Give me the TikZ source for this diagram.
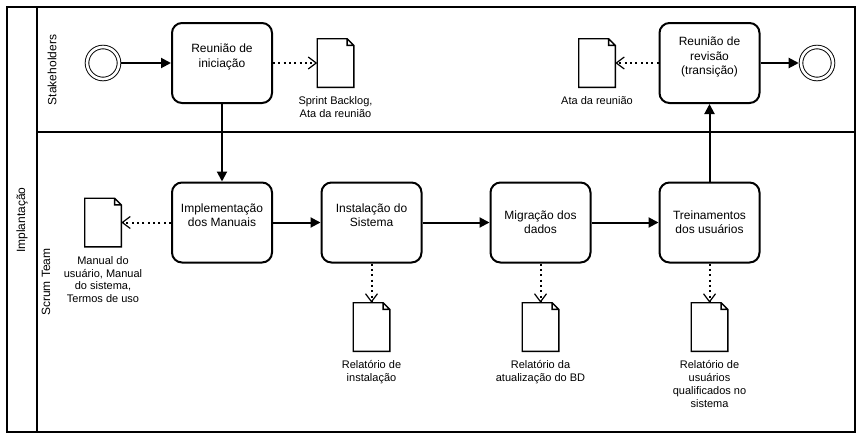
\documentclass[tikz,border=0pt]{standalone}
\usepackage{fontspec}
\setmainfont{Liberation Sans}
\usetikzlibrary{arrows.meta,positioning}

\begin{document}
\begin{tikzpicture}[
	x=0.75pt, y=-0.75pt,
	pool/.style={draw, line width=1.3pt},
	lanetext/.style={rotate=90, font=\fontsize{9}{10.8}\selectfont},
	task/.style={draw, line width=1.5pt, rounded corners=7.5pt, minimum width=75pt, minimum height=60pt},
	tasktext/.style={align=center, font=\fontsize{9}{10.8}\selectfont, yshift=#1},
	tasktext/.default=0pt,
	event/.style={circle, draw, line width=0.7pt, double, double distance=2pt, minimum size=24pt, outer sep=1.7pt},
	docnode/.style={minimum width=27pt, minimum height=36pt, inner sep=0pt,
		append after command={\pgfextra{
			\draw[line width=1.1pt] (\tikzlastnode.south west) -- (\tikzlastnode.north west)
				-- ([xshift=-5pt]\tikzlastnode.north east) -- ([yshift=-5pt]\tikzlastnode.north east)
				-- (\tikzlastnode.south east) -- cycle
				([xshift=-5pt]\tikzlastnode.north east) |- ([yshift=-5pt]\tikzlastnode.north east);
		}}},
	doctext/.style={align=center, font=\fontsize{8.25}{9.6}\selectfont, inner sep=0pt, below=7pt of #1},
	flow/.style={draw, line width=1.5pt, -{Triangle[length=7.5pt, width=7.5pt]}},
	assoc/.style={draw, line width=1.5pt, dash pattern=on 1.5pt off 2.5pt,
		-{Straight Barb[length=6pt, width=9pt, line width=0.9pt]}}
	]
	\useasboundingbox (0,0) rectangle (863,440);
	\draw[pool] (7,7) rectangle (855,432);
	\draw[pool] (37,7) -- (37,432);
	\draw[pool] (37,132) -- (855,132);
	\node[lanetext] (pool-t) at (22,220) {Implantação};
	\node[lanetext] (stake-t) at (52,70) {Stakeholders};
	\node[lanetext] (scrum-t) at (46,282) {Scrum Team};

	\node[event] (start) at (103,63) {};
	\node[task, label={[tasktext=4.5pt, name=ini-t]center:Reunião de\\iniciação}] (ini) at (222,63) {};
	\node[docnode] (sb) at (335.5,63) {};
	\node[doctext=sb] (sb-t) {Sprint Backlog,\\Ata da reunião};
	\node[docnode] (ata) at (597,63) {};
	\node[doctext=ata] (ata-t) {Ata da reunião};
	\node[task, label={[tasktext=4.5pt, name=rev-t]center:Reunião de\\revisão\\(transição)}] (rev) at (709.5,63) {};
	\node[event] (end) at (817,63) {};

	\node[docnode] (man) at (103,222.5) {};
	\node[doctext=man] (man-t) {Manual do\\usuário, Manual\\do sistema,\\Termos de uso};
	\node[task, label={[tasktext=5.25pt, name=impl-t]center:Implementação\\dos Manuais}] (impl) at (222,222.5) {};
	\node[task, label={[tasktext=5.25pt, name=inst-t]center:Instalação do\\Sistema}] (inst) at (371.5,222.5) {};
	\node[task, label={[tasktext, name=mig-t]center:Migração dos\\dados}] (mig) at (540.5,222.5) {};
	\node[task, label={[tasktext, name=trei-t]center:Treinamentos\\dos usuários}] (trei) at (709.5,222.5) {};

	\node[docnode] (dinst) at (371.5,327) {};
	\node[doctext=dinst] (dinst-t) {Relatório de\\instalação};
	\node[docnode] (dmig) at (540.5,327) {};
	\node[doctext=dmig] (dmig-t) {Relatório da\\atualização do BD};
	\node[docnode] (dtrei) at (709.5,327) {};
	\node[doctext=dtrei] (dtrei-t) {Relatório de\\usuários\\qualificados no\\sistema};

	\draw[flow] (start) -- (ini);
	\draw[assoc] (ini) -- (sb);
	\draw[flow] (ini) -- (impl);
	\draw[assoc] (impl) -- (man);
	\draw[flow] (impl) -- (inst);
	\draw[flow] (inst) -- (mig);
	\draw[flow] (mig) -- (trei);
	\draw[assoc] (inst) -- (dinst);
	\draw[assoc] (mig) -- (dmig);
	\draw[assoc] (trei) -- (dtrei);
	\draw[flow] (trei) -- (rev);
	\draw[assoc] (rev) -- (ata);
	\draw[flow] (rev) -- (end);
\end{tikzpicture}
\end{document}
